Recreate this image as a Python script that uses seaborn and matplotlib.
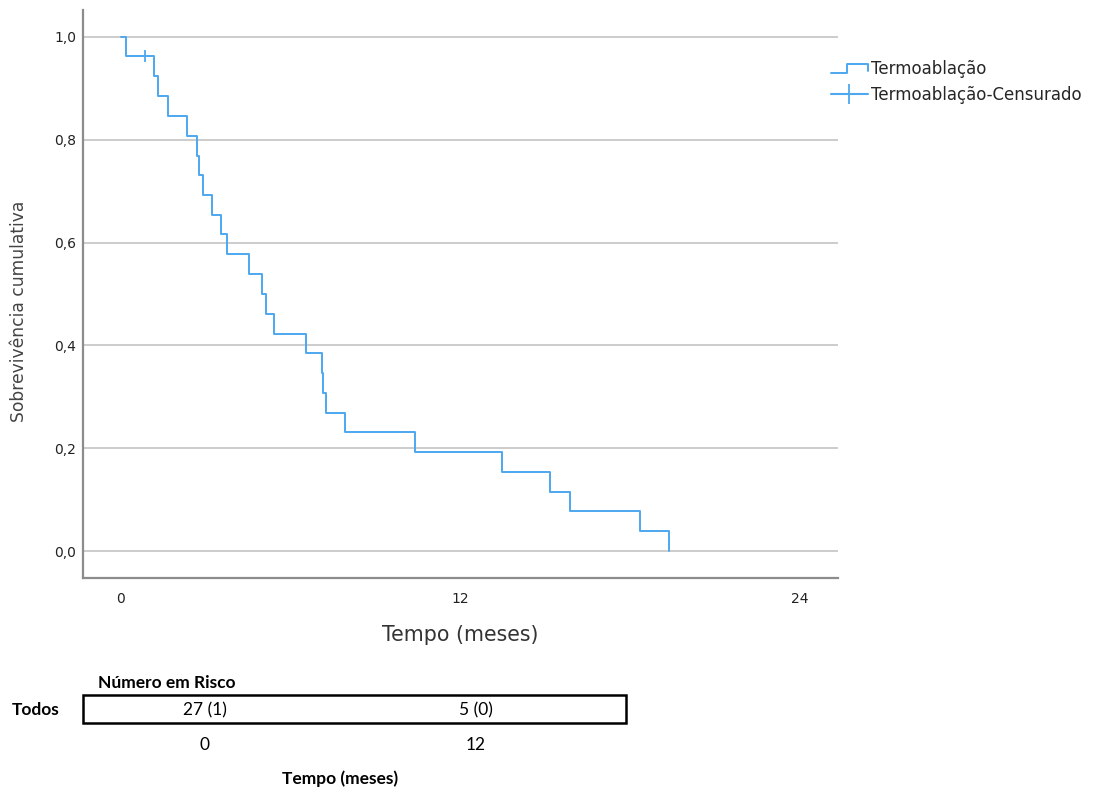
import numpy as np
import pandas as pd
import seaborn as sns
import matplotlib.pyplot as plt
from matplotlib.lines import Line2D
from matplotlib.patches import Rectangle
from matplotlib.legend_handler import HandlerBase

# curva de Kaplan-Meier (tempo em meses)
tempos = [0, 0.17, 1.16, 1.32, 1.65, 2.34, 2.69, 2.76, 2.90, 3.20, 3.54, 3.74,
          4.52, 4.98, 5.12, 5.39, 6.53, 7.09, 7.15, 7.25, 7.92, 10.39, 13.45,
          15.17, 15.88, 18.35, 19.35]
sobrevivencia = [1.0, 0.963, 0.925, 0.886, 0.847, 0.808, 0.769, 0.731, 0.692,
                 0.654, 0.616, 0.577, 0.539, 0.500, 0.461, 0.423, 0.385, 0.346,
                 0.308, 0.269, 0.231, 0.192, 0.154, 0.115, 0.077, 0.038, 0.0]
tempos_censurados = [0.85]
sobrev_censurados = [0.963]

yticks = [0.0, 0.2, 0.4, 0.6, 0.8, 1.0]
ytick_labels = ['0,0', '0,2', '0,4', '0,6', '0,8', '1,0']
xticks = [0, 12, 24]

risco_valores = ['27 (1)', '5 (0)']
risco_tempos = ['0', '12']

cor = '#4da8ef'

sns.set_style('white')
plt.rcParams['font.family'] = ['DejaVu Sans']

df = pd.DataFrame({'tempo': tempos, 'sobrev': sobrevivencia})

fig = plt.figure(figsize=(11.05, 7.92), dpi=100)
ax = fig.add_axes([0.0751, 0.2702, 0.6833, 0.7172])

sns.lineplot(data=df, x='tempo', y='sobrev', ax=ax, color=cor, lw=1.4,
             drawstyle='steps-post', estimator=None, sort=True)
ax.plot(tempos_censurados, sobrev_censurados, marker='|', ms=9, mew=1.3,
        color=cor, ls='none')

ax.set_xlim(-1.343, 25.34)
ax.set_ylim(-0.0525, 1.0525)
ax.set_yticks(yticks)
ax.set_yticklabels(ytick_labels, fontsize=10, color='#222222')
ax.set_xticks(xticks)
ax.set_xticklabels([str(t) for t in xticks], fontsize=10, color='#222222')
ax.tick_params(axis='y', length=0, pad=5)
ax.tick_params(axis='x', length=0, pad=10)
ax.yaxis.grid(True, color='#c8c8c8', lw=1.3)
ax.xaxis.grid(False)
ax.set_axisbelow(True)
for s in ['top', 'right']:
    ax.spines[s].set_visible(False)
for s in ['left', 'bottom']:
    ax.spines[s].set_color('#8c8c8c')
    ax.spines[s].set_linewidth(1.6)

ax.set_xlabel('Tempo (meses)', fontsize=14.8, color='#333333', labelpad=14)
ax.set_ylabel('Sobrevivência cumulativa', fontsize=12.3, color='#444444')
ax.yaxis.set_label_coords(-0.073, 0.47)


class StepHandler(HandlerBase):
    def create_artists(self, legend, orig_handle, xdescent, ydescent, width,
                       height, fontsize, trans):
        x0 = -xdescent
        y0 = -ydescent
        xs = [x0, x0 + width * 0.45, x0 + width * 0.45, x0 + width, x0 + width]
        ys = [y0 + height * 0.1, y0 + height * 0.1, y0 + height * 0.9,
              y0 + height * 0.9, y0 + height * 0.3]
        ln = Line2D(xs, ys, color=cor, lw=1.4, transform=trans)
        return [ln]


h1 = Line2D([], [], color=cor)
h2 = Line2D([], [], color=cor, marker='|', ms=14, mew=1.3)
ax.legend([h1, h2], ['Termoablação', 'Termoablação-Censurado'],
          handler_map={h1: StepHandler()},
          loc='upper left', bbox_to_anchor=(0.752, 0.924),
          bbox_transform=fig.transFigure, frameon=False, fontsize=12,
          handlelength=2.2, handletextpad=0.2, labelspacing=0.47,
          borderaxespad=0, borderpad=0)

# tabela de número em risco
bold = dict(fontfamily='Lato', fontweight='bold', fontsize=12.5, color='black')
norm = dict(fontfamily='Lato', fontsize=12.5, color='black')
fig.text(98 / 1105, 1 - 683 / 792, 'Número em Risco', ha='left', va='center', **bold)
fig.text(36 / 1105, 1 - 710 / 792, 'Todos', ha='center', va='center', **bold)
fig.patches.append(Rectangle((83 / 1105, 1 - 723 / 792), 543 / 1105, 28 / 792,
                             transform=fig.transFigure, fill=False,
                             edgecolor='black', lw=1.8))
for xp, v, t in zip([205, 476], risco_valores, risco_tempos):
    fig.text(xp / 1105, 1 - 710 / 792, v, ha='center', va='center', **norm)
    fig.text(xp / 1105, 1 - 745 / 792, t, ha='center', va='center', **norm)
fig.text(340 / 1105, 1 - 779 / 792, 'Tempo (meses)', ha='center', va='center', **bold)

fig.savefig('out.png', dpi=100)
